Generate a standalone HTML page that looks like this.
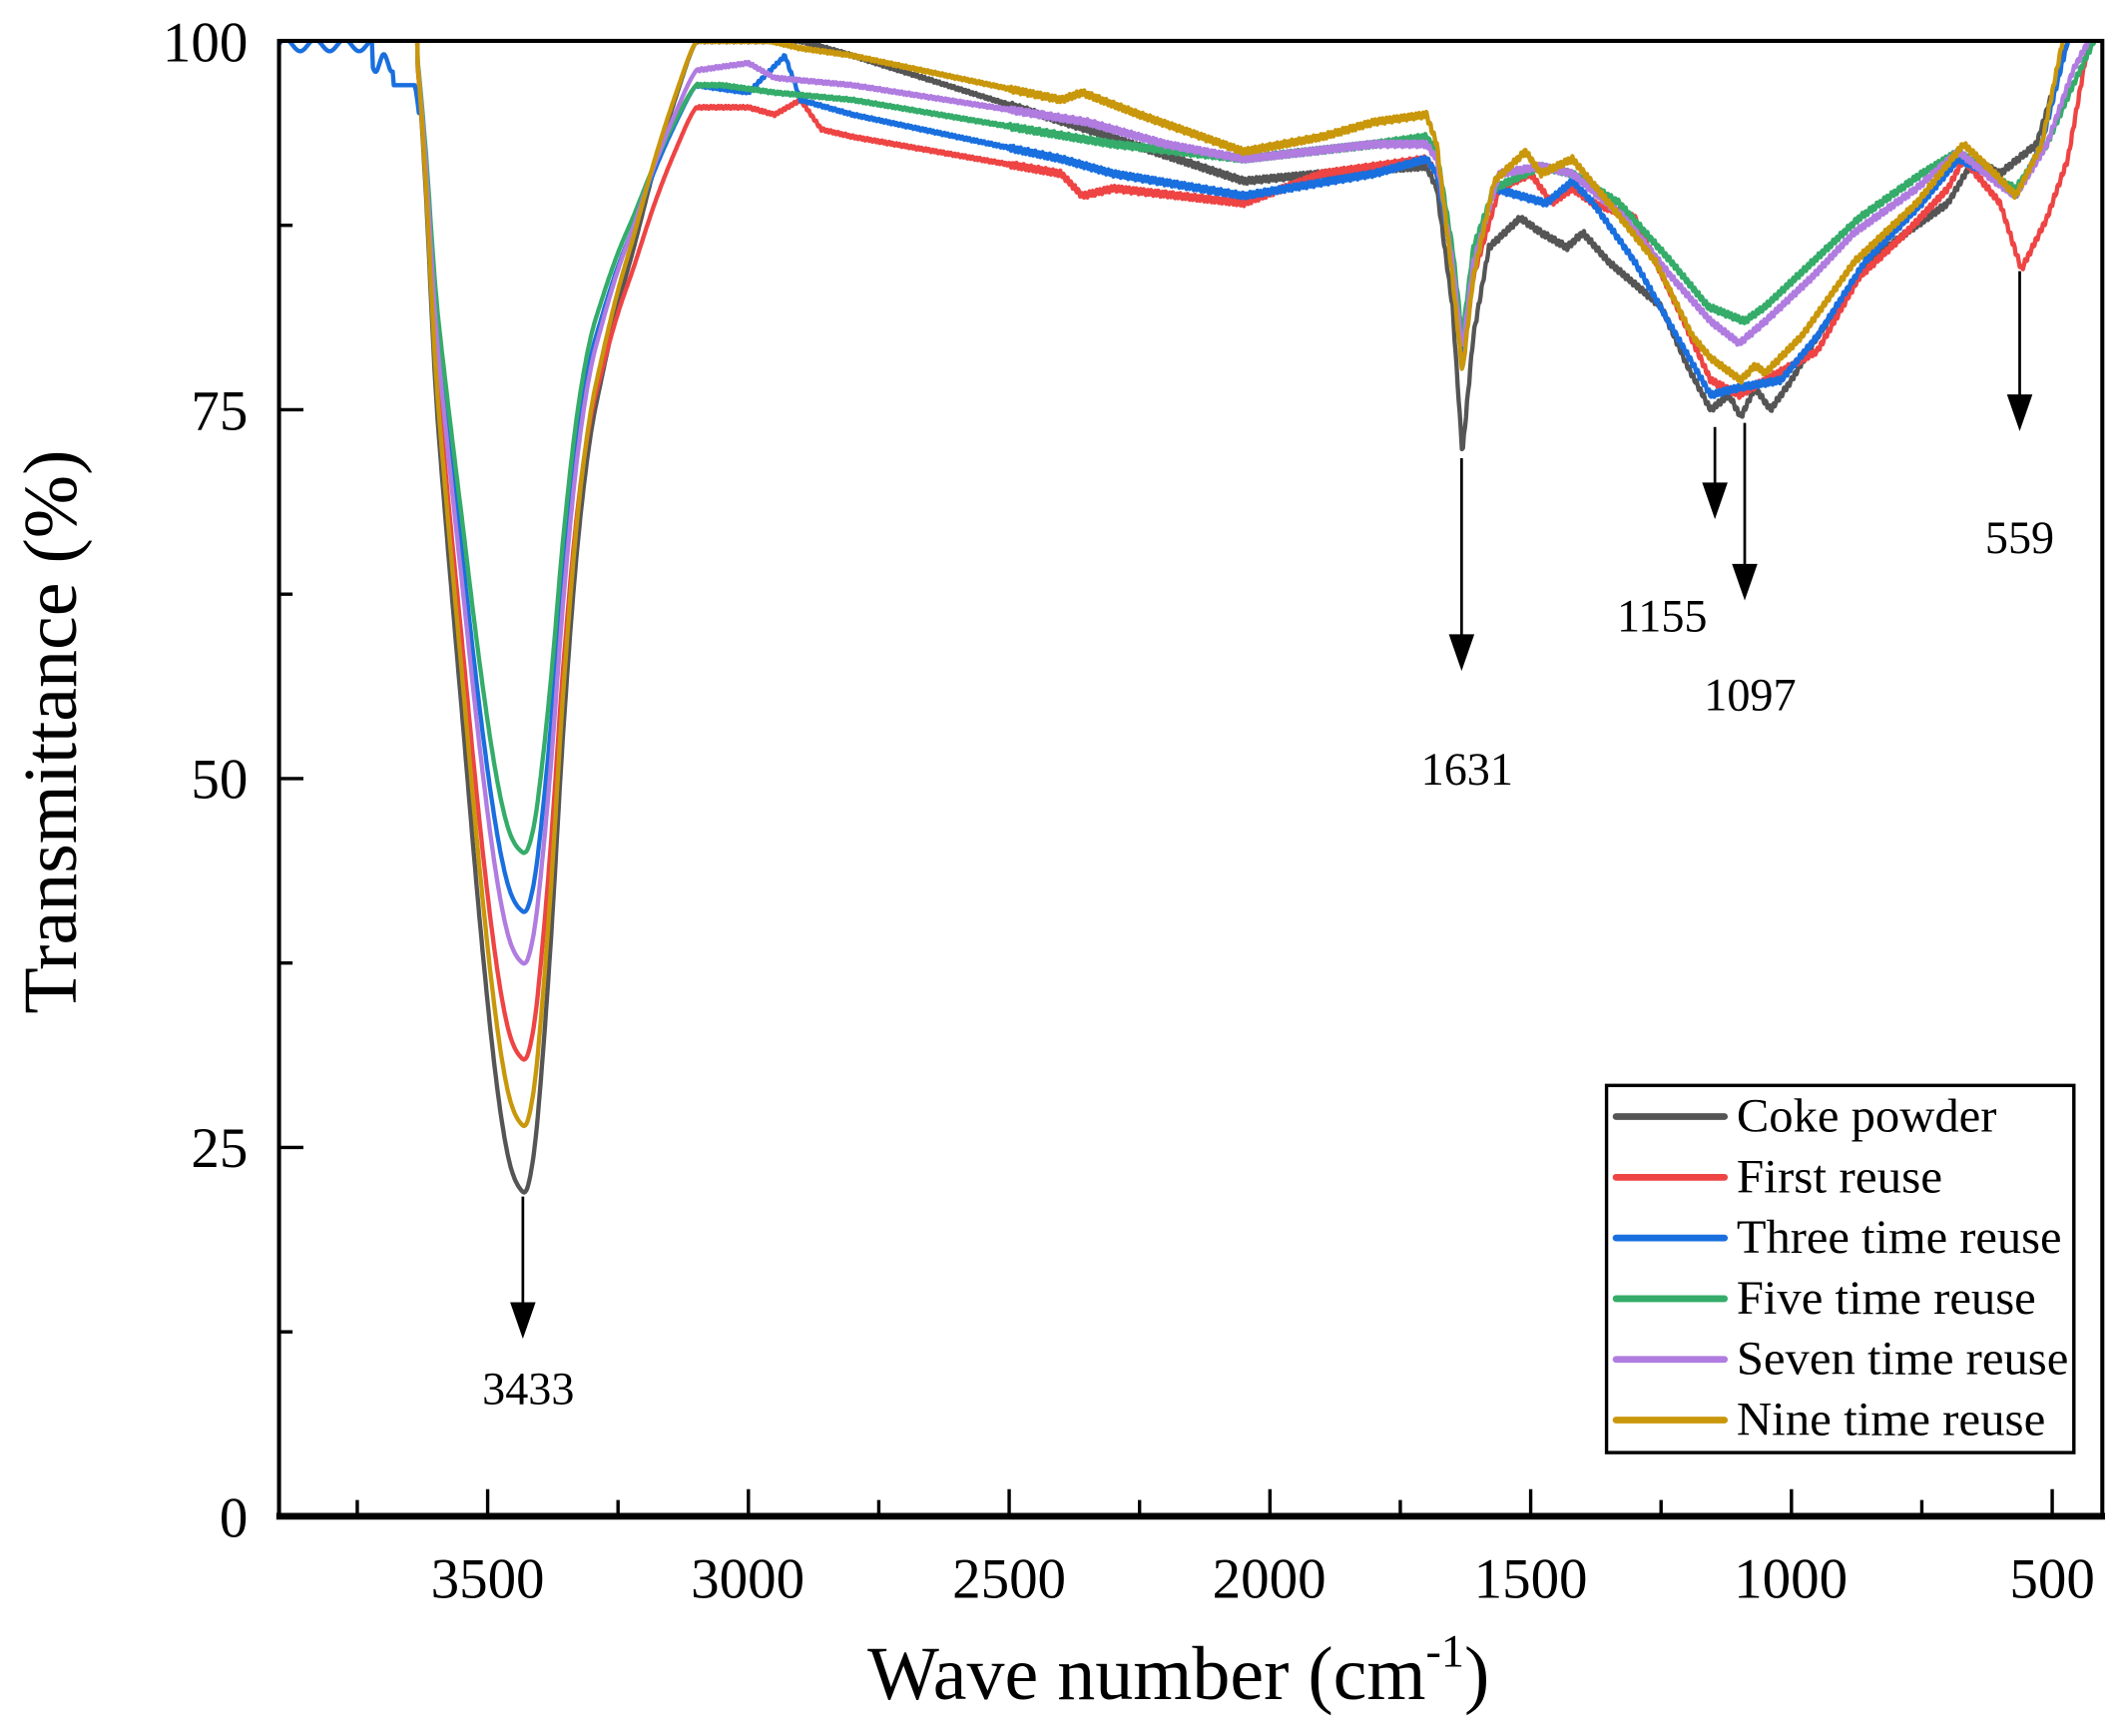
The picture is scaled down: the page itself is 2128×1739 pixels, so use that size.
<!DOCTYPE html>
<html><head><meta charset="utf-8"><style>html,body{margin:0;padding:0;background:#fff}svg{display:block}</style></head>
<body>
<svg id="s" width="2128" height="1739" viewBox="0 0 1568 1281" xmlns="http://www.w3.org/2000/svg" font-family="Liberation Serif, serif">
<defs><clipPath id="c"><rect x="206" y="30" width="1346" height="1089"/></clipPath></defs>
<rect width="1568" height="1281" fill="#fff"/>
<g id="curves" clip-path="url(#c)" fill="none" stroke-width="3.2" stroke-linejoin="round"></g>
<g stroke="#000" fill="none">
<rect x="206" y="30" width="1346" height="1089" stroke-width="3"/>
<line x1="204" y1="1119" x2="1554" y2="1119" stroke-width="5"/>
<g id="ticks" stroke-width="2.5"></g>
</g>
<g font-size="42" text-anchor="end">
<text x="183" y="45">100</text><text x="183" y="317">75</text><text x="183" y="589">50</text><text x="183" y="861">25</text><text x="183" y="1134">0</text>
</g>
<g font-size="42" text-anchor="middle">
<text x="360" y="1179">3500</text><text x="552" y="1179">3000</text><text x="745" y="1179">2500</text><text x="937" y="1179">2000</text><text x="1130" y="1179">1500</text><text x="1322" y="1179">1000</text><text x="1515" y="1179">500</text>
</g>
<text x="870" y="1254" font-size="56" text-anchor="middle">Wave number (cm<tspan dy="-24" font-size="34">-1</tspan><tspan dy="24">)</tspan></text>
<text transform="translate(56,540) rotate(-90)" font-size="56" text-anchor="middle">Transmittance (%)</text>
<g stroke="#000" stroke-width="2" fill="#000">
<line x1="386" y1="883" x2="386" y2="965"/><polygon points="378,962 394,962 386,985"/>
<line x1="1079" y1="338" x2="1079" y2="472"/><polygon points="1071,469 1087,469 1079,492"/>
<line x1="1266" y1="315" x2="1266" y2="360"/><polygon points="1258,357 1274,357 1266,380"/>
<line x1="1288" y1="312" x2="1288" y2="420"/><polygon points="1280,417 1296,417 1288,440"/>
<line x1="1491" y1="200" x2="1491" y2="295"/><polygon points="1483,292 1499,292 1491,315"/>
</g>
<g font-size="34" text-anchor="middle">
<text x="390" y="1036">3433</text><text x="1083" y="579">1631</text><text x="1227" y="466">1155</text><text x="1292" y="524">1097</text><text x="1491" y="408">559</text>
</g>
<rect x="1186" y="801" width="345" height="271" fill="#fff" stroke="#000" stroke-width="2.5"/>
<g id="leg" font-size="35"></g>
</svg>
<script>
var X=function(w){return 360+(3500-w)*0.385};
var Y=function(t){return 1119-t*10.89};
var NS="http://www.w3.org/2000/svg";
var tk=document.getElementById('ticks'),h='';
for(var w=3750;w>=450;w-=250){var mj=(w%500==0);h+='<line x1="'+X(w)+'" y1="1119" x2="'+X(w)+'" y2="'+(1119-(mj?20:12))+'"/>';}
for(var t=12.5;t<100;t+=12.5){var mj=(t%25==0);h+='<line x1="206" y1="'+Y(t)+'" x2="'+(206+(mj?18:10))+'" y2="'+Y(t)+'"/>';}
tk.innerHTML=h;
var prof=[[3700,0],[3680,0],[3640,0],[3620,0.12],[3600,0.3],[3580,0.42],[3550,0.58],[3516,0.76],[3486,0.894],[3460,0.971],[3433,1],[3420,0.99],[3405,0.94],[3380,0.79],[3355,0.6],[3330,0.45],[3305,0.35],[3280,0.29],[3250,0.23],[3220,0.18],[3180,0.11],[3140,0.05],[3100,0],[3080,0]];
function cr(a,w){for(var i=1;i<a.length-2;i++){if(w<=a[i][0]&&w>=a[i+1][0]){var t=(a[i][0]-w)/(a[i][0]-a[i+1][0]);
 var x0=a[i-1][0],x1=a[i][0],x2=a[i+1][0],x3=a[i+2][0],p0=a[i-1][1],p1=a[i][1],p2=a[i+1][1],p3=a[i+2][1];
 var m1=(p2-p0)/(x0-x2)*(x1-x2),m2=(p3-p1)/(x1-x3)*(x1-x2);
 var t2=t*t,t3=t2*t;return (2*t3-3*t2+1)*p1+(t3-2*t2+t)*m1+(-2*t3+3*t2)*p2+(t3-t2)*m2;}}return 0;}
var S=[
["#555555",22,100,[[3100,100],[2900,100],[2800,99],[2350,94],[2050,90.5],[1900,91],[1700,91.5],[1680,90],[1650,82],[1631,72],[1610,80],[1580,86],[1520,88],[1480,87],[1430,86],[1400,87],[1350,85],[1250,82],[1200,78],[1155,75],[1120,76],[1097,74.5],[1070,76.5],[1040,75],[1000,77],[950,80],[850,85],[780,87],[700,89],[650,92],[600,91],[530,93],[470,100],[400,104]]],
["#ee4444",31,95.5,[[3100,95.5],[3000,95.5],[2950,95],[2900,96],[2860,94],[2800,93.5],[2400,91],[2360,89.5],[2300,90],[2050,89],[1900,91],[1700,92],[1680,91],[1650,85],[1631,78],[1610,84],[1560,90],[1500,91],[1460,89],[1420,90],[1380,89],[1300,88],[1220,82],[1155,77],[1100,76],[1050,77],[950,79],[870,84],[780,87],[700,90],[670,92],[600,89],[559,84.5],[510,88],[470,92],[430,100],[400,104]]],
["#1a6fdf",41,97,[[3100,97],[3000,96.5],[2930,99],[2900,96],[2800,95],[2400,92],[2300,91],[2050,89.5],[1800,91],[1700,92],[1680,91],[1650,85],[1631,79],[1610,85],[1570,90],[1470,89],[1420,90.5],[1380,89],[1300,85],[1220,80],[1155,76],[1100,76.5],[1020,77],[950,80],[860,85],[750,89],[680,92],[620,91],[570,89.5],[520,93],[470,100],[400,104]]],
["#35ac6a",45,97,[[3100,97],[3050,97],[2950,96.5],[2800,96],[2300,93],[2050,92],[1800,93],[1700,93.5],[1680,92.5],[1650,86],[1631,80],[1610,86],[1570,90],[1480,91.5],[1420,91],[1330,89],[1230,85],[1160,82],[1090,81],[1050,82],[960,85],[870,88],[750,91],[680,92.5],[600,90.5],[570,90],[510,93],[460,97],[420,100],[400,104]]],
["#b07ce0",37.5,98,[[3100,98],[3000,98.5],[2950,97.5],[2800,97],[2350,94.5],[2200,93],[2050,92],[1800,93],[1700,93],[1680,92],[1650,85],[1631,79],[1610,85],[1560,91],[1480,91.5],[1420,91],[1320,88],[1230,84],[1155,81],[1100,79.5],[1050,81],[960,84],[880,87],[760,90],[680,92.5],[610,90.5],[570,89.5],[510,93],[460,98],[430,100],[400,104]]],
["#c9970b",26.5,100,[[3100,100],[2960,100],[2900,99.5],[2800,99],[2400,96],[2360,96.5],[2250,95],[2050,92.5],[1900,93.5],[1800,94.5],[1700,95],[1680,93],[1650,84],[1631,77.5],[1610,84],[1570,90.5],[1510,92.5],[1480,91],[1420,92],[1350,89],[1260,85],[1190,80],[1155,78.5],[1097,77],[1070,78],[1050,77.5],[980,80],[880,85],[760,89],[670,93],[610,91],[570,89.5],[520,93],[480,100],[400,104]]]
];
function interp(a,w){for(var i=0;i<a.length-1;i++){if(w<=a[i][0]&&w>=a[i+1][0]){var f=(a[i][0]-w)/(a[i][0]-a[i+1][0]);return a[i][1]+f*(a[i+1][1]-a[i][1]);}}return 0;}
var g=document.getElementById('curves');
S.forEach(function(s,k){
 var d='',first=true;
 for(var w=3900;w>=400;w-=2){
  var t;
  if(w>3680){t=(k==2)?(w>3720?99.7-0.4*Math.sin(w/9):98.5-0.6*Math.sin(w/5)):103;}
  else if(w>=3100){var p=Math.max(0,cr(prof,w));var top=100+(s[2]-100)*(3680-w)/580;if(k==2&&w>3630)top=97;if(k!=2&&w>3635)top=103;t=top-p*(top-s[1]);}
  else{t=interp(s[3],w);t+=0.2*Math.sin(w*0.9+k)*(w<2500?1:0.5);}
  d+=(first?'M':'L')+X(w).toFixed(1)+' '+Y(t).toFixed(1);first=false;
 }
 var p=document.createElementNS(NS,'path');p.setAttribute('d',d);p.setAttribute('stroke',s[0]);g.appendChild(p);
});
var names=["Coke powder","First reuse","Three time reuse","Five time reuse","Seven time reuse","Nine time reuse"];
var lens=[192,152,240,221,245,228];
var lh='';names.forEach(function(n,i){var y=824+i*44.8;lh+='<line x1="1193" y1="'+y+'" x2="1273" y2="'+y+'" stroke="'+S[i][0]+'" stroke-width="5" stroke-linecap="round"/><text x="1282" y="'+(y+11)+'" textLength="'+lens[i]+'" lengthAdjust="spacingAndGlyphs">'+n+'</text>';});
document.getElementById('leg').innerHTML=lh;
</script>
</body></html>
